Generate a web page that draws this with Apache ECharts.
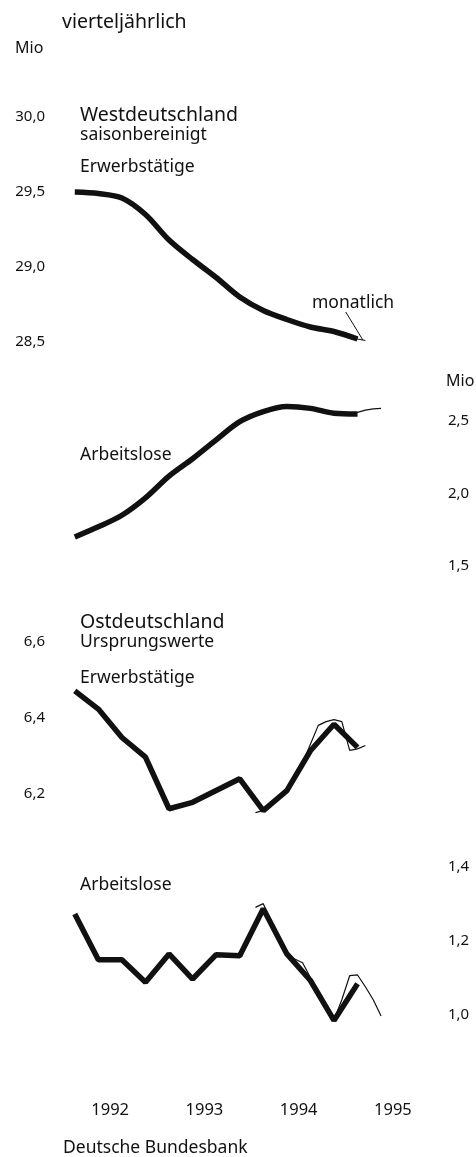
<!DOCTYPE html>
<html>
<head>
<meta charset="utf-8">
<script src="https://cdn.jsdelivr.net/npm/echarts@6/dist/echarts.min.js"></script>
<style>
  html, body { margin: 0; background: #fff; }
  #main { width: 476px; height: 1157px; }
</style>
</head>
<body>
<div id="main"></div>
<script>
// Jahreslabels (mittig unter dem Jahr)
var years = [1992, 1993, 1994, 1995];

// vierteljährlich, ab 1992 Q1
var westErwerbQ = [29.50, 29.49, 29.46, 29.35, 29.18, 29.05, 28.93, 28.80, 28.71, 28.65, 28.60, 28.57, 28.52];
var westArbeitslosQ = [1.70, 1.77, 1.85, 1.97, 2.12, 2.24, 2.37, 2.495, 2.565, 2.60, 2.587, 2.553, 2.548];
var ostErwerbQ = [6.471, 6.423, 6.348, 6.296, 6.160, 6.177, 6.208, 6.239, 6.155, 6.208, 6.313, 6.383, 6.322];
var ostArbeitslosQ = [1.272, 1.148, 1.148, 1.087, 1.164, 1.096, 1.162, 1.159, 1.286, 1.164, 1.092, 0.984, 1.083];

// monatlich, ab Januar 1994
var westErwerbM = [28.745, 28.71, 28.69, 28.67, 28.65, 28.635, 28.615, 28.60, 28.59, 28.58, 28.57, 28.555, 28.54, 28.52, 28.51];
var westArbeitslosM = [2.538, 2.562, 2.576, 2.589, 2.602, 2.598, 2.593, 2.587, 2.577, 2.565, 2.553, 2.552, 2.55, 2.56, 2.575, 2.583, 2.587];
var ostErwerbM = [6.15, 6.155, 6.17, 6.19, 6.207, 6.24, 6.28, 6.33, 6.38, 6.39, 6.395, 6.39, 6.314, 6.318, 6.327];
var ostArbeitslosM = [1.29, 1.30, 1.25, 1.21, 1.17, 1.15, 1.14, 1.10, 1.06, 1.02, 0.985, 1.04, 1.105, 1.107, 1.075, 1.04, 0.996];

var FONT = '"Noto Sans", "Open Sans", sans-serif';
var INK = '#111';

function quarterly(arr) {
  return arr.map(function (v, i) { return [1992 + (i + 0.5) / 4, v]; });
}
function monthly(arr) {
  return arr.map(function (v, i) { return [1994 + (i + 0.5) / 12, v]; });
}
function comma(v) { return v.toFixed(1).replace('.', ','); }

var grids = [
  { left: 63, width: 377, top: 117, height: 225 },
  { left: 63, width: 377, top: 421, height: 145 },
  { left: 63, width: 377, top: 642, height: 151.6 },
  { left: 63, width: 377, top: 866.7, height: 147.8 }
];

var xAxes = grids.map(function (g, i) {
  return {
    type: 'value', gridIndex: i, min: 1992, max: 1996,
    show: i === 3,
    axisLine: { show: false }, axisTick: { show: false }, splitLine: { show: false },
    axisLabel: {
      customValues: years.map(function (y) { return y + 0.5; }),
      formatter: function (v) { return String(Math.floor(v)); },
      margin: 87, color: INK, fontSize: 16.5, fontFamily: FONT
    }
  };
});

function yAxis(i, min, max, step, pos) {
  return {
    type: 'value', gridIndex: i, min: min, max: max, interval: step, position: pos,
    axisLine: { show: false }, axisTick: { show: false }, splitLine: { show: false },
    axisLabel: {
      formatter: comma, color: INK, fontSize: 15, fontFamily: FONT,
      margin: pos === 'left' ? 18 : 8
    }
  };
}

function thick(i, data, smooth) {
  return {
    type: 'line', xAxisIndex: i, yAxisIndex: i, data: data, smooth: smooth,
    symbol: 'none', clip: false, silent: true, z: 3,
    lineStyle: { color: INK, width: 5.5 }
  };
}
function thin(i, data) {
  return {
    type: 'line', xAxisIndex: i, yAxisIndex: i, data: data,
    symbol: 'none', clip: false, silent: true, z: 4,
    lineStyle: { color: INK, width: 1.2 }
  };
}

function txt(x, y, s, size) {
  return {
    type: 'text', x: x, y: y, silent: true,
    style: { text: s, fill: INK, fontSize: size, fontFamily: FONT, verticalAlign: 'middle' }
  };
}

var westMonthly = thin(0, monthly(westErwerbM));
westMonthly.markLine = {
  silent: true, symbol: 'none', label: { show: false },
  lineStyle: { color: INK, width: 1, type: 'solid' },
  data: [[{ coord: [1995.0, 28.70] }, { coord: [1995.18, 28.515] }]]
};

var option = {
  backgroundColor: '#fff',
  animation: false,
  grid: grids,
  xAxis: xAxes,
  yAxis: [
    yAxis(0, 28.5, 30.0, 0.5, 'left'),
    yAxis(1, 1.5, 2.5, 0.5, 'right'),
    yAxis(2, 6.2, 6.6, 0.2, 'left'),
    yAxis(3, 1.0, 1.4, 0.2, 'right')
  ],
  series: [
    thick(0, quarterly(westErwerbQ), 0.3),
    westMonthly,
    thick(1, quarterly(westArbeitslosQ), 0.3),
    thin(1, monthly(westArbeitslosM)),
    thick(2, quarterly(ostErwerbQ), false),
    thin(2, monthly(ostErwerbM)),
    thick(3, quarterly(ostArbeitslosQ), false),
    thin(3, monthly(ostArbeitslosM))
  ],
  graphic: [
    txt(62, 22, 'vierteljährlich', 19.5),
    txt(15, 48, 'Mio', 16),
    txt(80, 115, 'Westdeutschland', 19.5),
    txt(80, 135, 'saisonbereinigt', 17.5),
    txt(80, 167, 'Erwerbstätige', 17.5),
    txt(312, 303, 'monatlich', 17.5),
    txt(446, 381, 'Mio', 16),
    txt(80, 455, 'Arbeitslose', 17.5),
    txt(80, 622, 'Ostdeutschland', 19.5),
    txt(80, 642, 'Ursprungswerte', 17.5),
    txt(80, 678, 'Erwerbstätige', 17.5),
    txt(80, 885, 'Arbeitslose', 17.5),
    txt(63, 1148, 'Deutsche Bundesbank', 17.5)
  ]
};

var myChart = echarts.init(document.getElementById('main'));
myChart.setOption(option);
</script>
</body>
</html>
